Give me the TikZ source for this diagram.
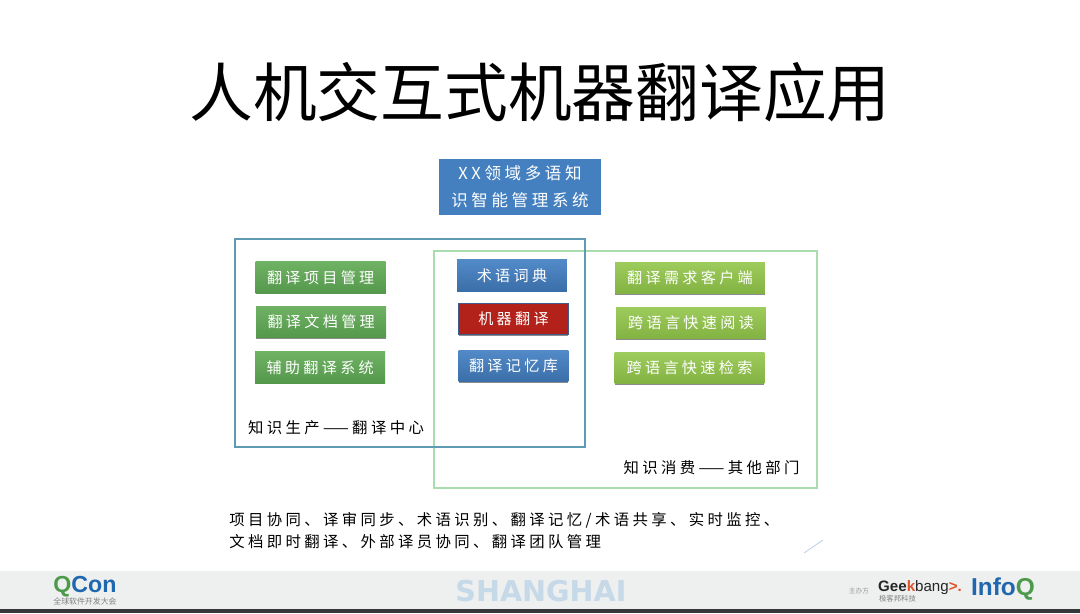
\documentclass[tikz,border=0pt]{standalone}
\usepackage{fontspec}
\usetikzlibrary{shadows}
\setmainfont{Noto Sans CJK SC}
\newfontfamily\titlefont{Noto Sans CJK SC}
\newfontfamily\boxfont[LetterSpace=22]{Noto Sans CJK SC}
\newfontfamily\logofont{Liberation Sans}
\newfontfamily\cityfont{DejaVu Sans}
\definecolor{prodframe}{HTML}{5F9AB5}
\definecolor{consframe}{HTML}{A9DDAE}
\definecolor{sysblue}{HTML}{4480BF}
\definecolor{footgrey}{HTML}{EEEFEF}
\definecolor{footdark}{HTML}{35383A}
\definecolor{qgreen}{HTML}{4C9A4A}
\definecolor{qblue}{HTML}{1F67AE}
\definecolor{cityblue}{HTML}{C6D9E8}
\definecolor{bangred}{HTML}{E0532A}
\begin{document}
\begin{tikzpicture}[x=0.02cm,y=-0.02cm]
        \tikzstyle{tile} = [rectangle, minimum height=0.63cm, inner sep=0pt, text=white, font=\boxfont\fontsize{8.6}{10}\selectfont, drop shadow={shadow xshift=0pt, shadow yshift=-0.7pt, opacity=0.45, fill=black}]
        \tikzstyle{prodtile} = [tile, minimum width=2.6cm, top color={rgb,255:red,112;green,178;blue,100}, bottom color={rgb,255:red,84;green,152;blue,76}]
        \tikzstyle{constile} = [tile, minimum width=3cm, top color={rgb,255:red,158;green,204;blue,92}, bottom color={rgb,255:red,130;green,178;blue,66}]
        \tikzstyle{basetile} = [tile, minimum width=2.2cm, top color={rgb,255:red,82;green,138;blue,200}, bottom color={rgb,255:red,58;green,110;blue,168}]
        \tikzstyle{redtile} = [tile, minimum width=2.2cm, fill={rgb,255:red,178;green,34;blue,26}, draw={rgb,255:red,64;green,92;blue,136}]
        \tikzstyle{frame} = [rectangle, inner sep=0pt, line width=1.1pt]
        \tikzstyle{note} = [inner sep=0pt, text=black, font=\boxfont\fontsize{8.75}{10}\selectfont]

                \useasboundingbox (0,0) rectangle (1080,613);
                \fill[white] (0,0) rectangle (1080,613);
                \fill[footgrey] (0,571) rectangle (1080,609);
                \fill[footdark] (0,609) rectangle (1080,613);

                \node (title) at (540,92) [inner sep=0pt, font=\titlefont\fontsize{36.3}{40}\selectfont] {人机交互式机器翻译应用};
                \node (system) at (520,187) [rectangle, minimum width=3.25cm, minimum height=1.11cm, inner sep=0pt, fill=sysblue, text=white, align=center, font=\boxfont\fontsize{9.4}{15.5}\selectfont] {XX领域多语知\\识智能管理系统};

                \node (cons) at (625.5,369.5) [frame, draw=consframe, minimum width=7.66cm, minimum height=4.74cm] {};
                \node (prod) at (410,343) [frame, draw=prodframe, minimum width=7cm, minimum height=4.16cm] {};

                \node (trans1) at (320.7,277.5) [prodtile] {翻译项目管理};
                \node (trans2) [prodtile, below of=trans1, node distance=0.885cm, xshift=0.01cm] {翻译文档管理};
                \node (trans3) [prodtile, below of=trans2, node distance=0.915cm, xshift=-0.02cm] {辅助翻译系统};

                \node (term) at (512,275.5) [basetile] {术语词典};
                \node (mt) [redtile, below of=term, node distance=0.87cm, xshift=0.03cm] {机器翻译};
                \node (memory) [basetile, below of=mt, node distance=0.94cm] {翻译记忆库};

                \node (need) at (690,278) [constile] {翻译需求客户端};
                \node (read) [constile, below of=need, node distance=0.9cm, xshift=0.02cm] {跨语言快速阅读};
                \node (search) [constile, below of=read, node distance=0.9cm, xshift=-0.03cm] {跨语言快速检索};

                \node (prodlabel) at (336,428) [note] {知识生产——翻译中心};
                \node (conslabel) at (711.5,468) [note] {知识消费——其他部门};
                \node (detail1) at (229,520) [note, anchor=west] {项目协同、译审同步、术语识别、翻译记忆/术语共享、实时监控、};
                \node (detail2) at (229,542) [note, anchor=west] {文档即时翻译、外部译员协同、翻译团队管理};

                \coordinate (tick1) at (804,553);
                \coordinate (tick2) at (823,540);
                \draw[sysblue!35, line width=0.5pt] (tick1) -- (tick2);

                \node (qcon) at (85,587) [inner sep=0pt, font=\logofont\bfseries\fontsize{13.2}{16}\selectfont] {\textcolor{qgreen}{Q}\textcolor{qblue}{Con}};
                \node (qconsub) at (85,601.5) [inner sep=0pt, text=gray, font=\fontsize{4.5}{5}\selectfont] {全球软件开发大会};
                \node (city) at (541,591) [inner sep=0pt, text=cityblue, font=\cityfont\bfseries\fontsize{16.3}{19}\selectfont] {SHANGHAI};
                \node (host) at (859,590.5) [inner sep=0pt, text=gray!80, font=\fontsize{3.8}{5}\selectfont] {主办方};
                \node (geek) at (920,588) [inner sep=0pt, font=\logofont\fontsize{8.6}{12}\selectfont] {\textcolor{black!85}{\bfseries Gee}\textcolor{bangred}{\bfseries k}\textcolor{black!85}{bang}\textcolor{bangred}{\bfseries >.}};
                \node (geeksub) at (897.5,598.5) [inner sep=0pt, text=gray, font=\fontsize{4.2}{5}\selectfont] {极客邦科技};
                \node (infoq) at (1003,589) [inner sep=0pt, font=\logofont\bfseries\fontsize{13.9}{16}\selectfont] {\textcolor{qblue}{Info}\textcolor{qgreen}{Q}};
\end{tikzpicture}
\end{document}
